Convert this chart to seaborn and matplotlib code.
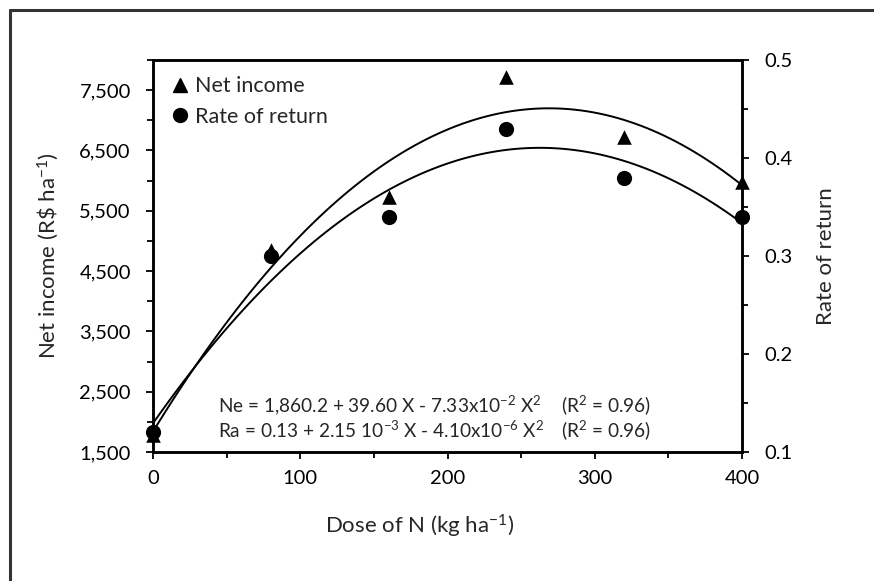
import numpy as np
import matplotlib
matplotlib.use("Agg")
import matplotlib.pyplot as plt
import seaborn as sns
from matplotlib.lines import Line2D
from matplotlib.ticker import FixedLocator, FuncFormatter

# --- DATA ---
dose = [0, 80, 160, 240, 320, 400]
net_income = [1780, 4850, 5730, 7720, 6720, 5980]
rate_return = [0.12, 0.30, 0.34, 0.43, 0.38, 0.34]

left_major = [1500, 2500, 3500, 4500, 5500, 6500, 7500]
left_minor = [2000, 3000, 4000, 5000, 6000, 7000, 8000]
right_major = [0.1, 0.2, 0.3, 0.4, 0.5]
right_minor = [0.15, 0.25, 0.35, 0.45]
x_major = [0, 100, 200, 300, 400]
x_minor = [50, 150, 250, 350]

eq_ne = "Ne = 1,860.2 + 39.60 X - 7.33x10$^{-2}$ X$^{2}$"
eq_ra = "Ra = 0.13 + 2.15 10$^{-3}$ X - 4.10x10$^{-6}$ X$^{2}$"
r2_text = "(R$^{2}$ = 0.96)"

# --- STYLE ---
sns.set_style("ticks")
plt.rcParams["font.family"] = ["Lato", "DejaVu Sans"]
plt.rcParams["mathtext.fontset"] = "custom"
plt.rcParams["mathtext.rm"] = "Lato"
plt.rcParams["mathtext.default"] = "regular"
FS_TICK = 14.5
FS_LABEL = 16
FS_LEG = 15.5
FS_EQ = 13.7

W, H = 874, 581
fig = plt.figure(figsize=(W / 100, H / 100), dpi=100)
ax = fig.add_axes([153 / W, 1 - 452 / H, (742 - 153) / W, (452 - 60) / H])
ax2 = ax.twinx()

# markers
sns.scatterplot(x=dose, y=net_income, ax=ax, marker="^", s=110, color="black",
                edgecolor="black", linewidth=0, zorder=5, clip_on=False)
sns.scatterplot(x=dose, y=rate_return, ax=ax2, marker="o", s=120, color="black",
                edgecolor="black", linewidth=0, zorder=5, clip_on=False)

# quadratic trend lines fitted by seaborn
sns.regplot(x=dose, y=net_income, ax=ax, order=2, ci=None, scatter=False,
            line_kws={"color": "black", "lw": 1.4})
sns.regplot(x=dose, y=rate_return, ax=ax2, order=2, ci=None, scatter=False,
            line_kws={"color": "black", "lw": 1.4})

# axes limits and ticks
ax.set_xlim(0, 400)
ax.set_ylim(1500, 8000)
ax2.set_ylim(0.1, 0.5)

ax.xaxis.set_major_locator(FixedLocator(x_major))
ax.xaxis.set_minor_locator(FixedLocator(x_minor))
ax.yaxis.set_major_locator(FixedLocator(left_major))
ax.yaxis.set_minor_locator(FixedLocator(left_minor))
ax.yaxis.set_major_formatter(FuncFormatter(lambda v, p: f"{v:,.0f}"))
ax2.yaxis.set_major_locator(FixedLocator(right_major))
ax2.yaxis.set_minor_locator(FixedLocator(right_minor))
ax2.yaxis.set_major_formatter(FuncFormatter(lambda v, p: f"{v:.1f}"))

for a in (ax, ax2):
    a.tick_params(which="major", direction="out", length=5, width=1.3,
                  labelsize=FS_TICK, pad=11, color="black", labelcolor="black")
    a.tick_params(which="minor", direction="out", length=4, width=1.3, color="black")
    for s in a.spines.values():
        s.set_visible(True)
        s.set_linewidth(1.8)
        s.set_color("black")
ax.tick_params(axis="x", pad=8)

ax.set_xlabel("")
ax.set_ylabel("")
ax2.set_ylabel("")

fig.text(420 / W, 1 - 526 / H, "Dose of N (kg ha$^{-1}$)", fontsize=FS_LABEL,
         ha="center", va="center")
fig.text(48 / W, 1 - 256 / H, "Net income (R$\\$$ ha$^{-1}$)", fontsize=FS_LABEL,
         ha="center", va="center", rotation=90)
fig.text(826 / W, 1 - 256 / H, "Rate of return", fontsize=FS_LABEL,
         ha="center", va="center", rotation=90)

# equations
ax.text(0.11, 0.12, eq_ne, transform=ax.transAxes, fontsize=FS_EQ,
        ha="left", va="center")
ax.text(0.11, 0.055, eq_ra, transform=ax.transAxes, fontsize=FS_EQ,
        ha="left", va="center")
ax.text(0.692, 0.12, r2_text, transform=ax.transAxes, fontsize=FS_EQ,
        ha="left", va="center")
ax.text(0.692, 0.055, r2_text, transform=ax.transAxes, fontsize=FS_EQ,
        ha="left", va="center")

# legend
handles = [
    Line2D([], [], marker="^", color="black", ls="none", markersize=10),
    Line2D([], [], marker="o", color="black", ls="none", markersize=10),
]
leg = ax2.legend(handles, ["Net income", "Rate of return"], loc="upper left",
                 bbox_to_anchor=(0.0, 1.0), frameon=False, fontsize=FS_LEG,
                 handlelength=1.0, handletextpad=0.2, labelspacing=0.5,
                 borderaxespad=0.35)

# outer frame (only left and top edges are visible)
fig.add_artist(Line2D([10 / W, 10 / W], [0, 1 - 10 / H], transform=fig.transFigure,
                      color="#333333", lw=2.2))
fig.add_artist(Line2D([10 / W, 1], [1 - 10 / H, 1 - 10 / H], transform=fig.transFigure,
                      color="#333333", lw=2.2))

fig.savefig("out.png", dpi=100)
